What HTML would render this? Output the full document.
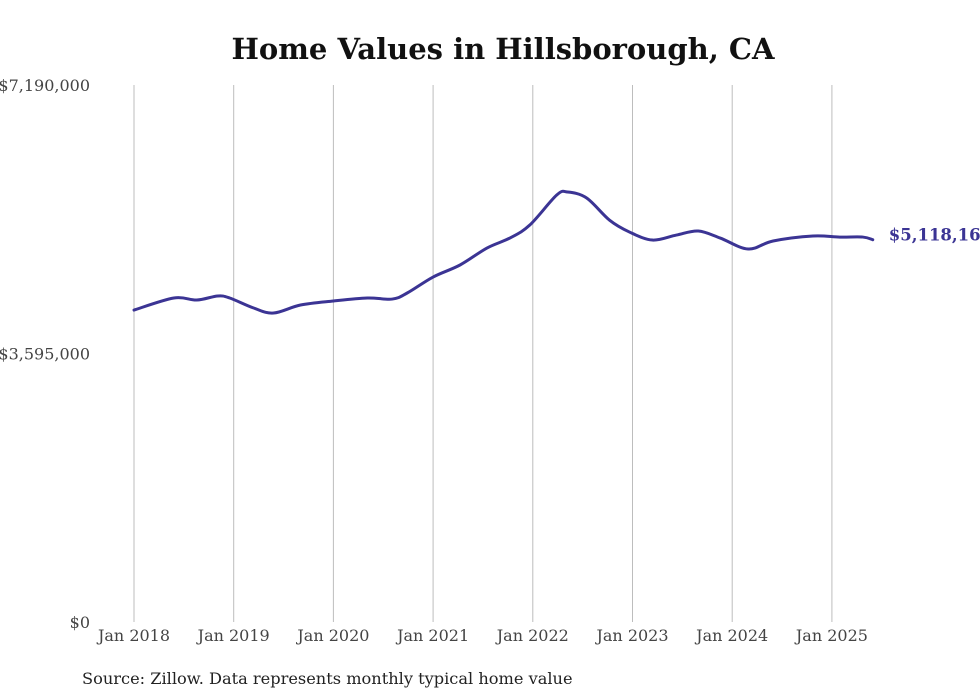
<!DOCTYPE html>
<html><head><meta charset="utf-8"><style>
html,body{margin:0;padding:0;background:#fff;}
svg{display:block;font-family:"DejaVu Serif","Liberation Serif",serif;}
</style></head><body>
<svg id="chart" width="980" height="699" viewBox="0 0 980 699">
<text x="503" y="59" text-anchor="middle" font-size="29" font-weight="bold" fill="#111">Home Values in Hillsborough, CA</text>
<g id="grid"></g><g id="yaxis"></g><g id="xaxis"></g><g id="series"></g>
<text x="82" y="684" font-size="16.2" fill="#222">Source: Zillow. Data represents monthly typical home value</text>
</svg>
<script>
const yTickValues=[0,3595000,7190000];
const yTickLabels=["$0","$3,595,000","$7,190,000"];
const xTickYears=[2018,2019,2020,2021,2022,2023,2024,2025];
const xTickLabels=["Jan 2018","Jan 2019","Jan 2020","Jan 2021","Jan 2022","Jan 2023","Jan 2024","Jan 2025"];
const dates=[2018.0,2018.4,2018.63,2018.84,2018.96,2019.2,2019.4,2019.67,2020.0,2020.34,2020.59,2020.74,2021.0,2021.27,2021.54,2021.77,2021.97,2022.24,2022.35,2022.54,2022.77,2022.97,2023.2,2023.44,2023.66,2023.88,2024.16,2024.41,2024.81,2025.08,2025.31,2025.41];
const values=[4177000,4338000,4311000,4365000,4338000,4204000,4137000,4244000,4298000,4338000,4324000,4405000,4619000,4780000,5007000,5141000,5315000,5717000,5757000,5677000,5380000,5221000,5114000,5181000,5235000,5141000,4994000,5101000,5168000,5154000,5154000,5118160];
const lastLabel="$5,118,160";
const NS="http://www.w3.org/2000/svg";
const X=t=>134+(t-2018)*99.7;
const Y=v=>622-v/7190000*537;
function mk(tag,attrs,parent){const e=document.createElementNS(NS,tag);for(const k in attrs)e.setAttribute(k,attrs[k]);document.getElementById(parent).appendChild(e);return e;}
xTickYears.forEach((yr,i)=>{
 const l=mk('line',{x1:X(yr),x2:X(yr),y1:85,y2:622,stroke:'#bdbdbd','stroke-width':1},'grid');
 
 
 const t=mk('text',{x:X(yr),y:641,'text-anchor':'middle','font-size':16,fill:'#444'},'xaxis');
 t.textContent=xTickLabels[i];
 
 
});
yTickValues.forEach((v,i)=>{
 const t=mk('text',{x:90,y:Y(v)+6,'text-anchor':'end','font-size':16,fill:'#444'},'yaxis');
 t.textContent=yTickLabels[i];
 
 
});
const pts=dates.map((d,i)=>[X(d),Y(values[i])]);
let d='M'+pts[0][0]+','+pts[0][1];
for(let i=0;i<pts.length-1;i++){
 const p0=pts[Math.max(0,i-1)],p1=pts[i],p2=pts[i+1],p3=pts[Math.min(pts.length-1,i+2)];
 const c1=[p1[0]+(p2[0]-p0[0])/6,p1[1]+(p2[1]-p0[1])/6],c2=[p2[0]-(p3[0]-p1[0])/6,p2[1]-(p3[1]-p1[1])/6];
 d+=` C${c1[0]},${c1[1]} ${c2[0]},${c2[1]} ${p2[0]},${p2[1]}`;
}
const path=mk('path',{d:d,fill:'none',stroke:'#3b3494','stroke-width':3,'stroke-linejoin':'round','stroke-linecap':'round'},'series');


const last=pts[pts.length-1];
const lab=mk('text',{x:last[0]+16,y:last[1]+1,'font-size':16.5,'font-weight':'bold',fill:'#3b3494'},'series');
lab.textContent=lastLabel;


</script>
</body></html>
